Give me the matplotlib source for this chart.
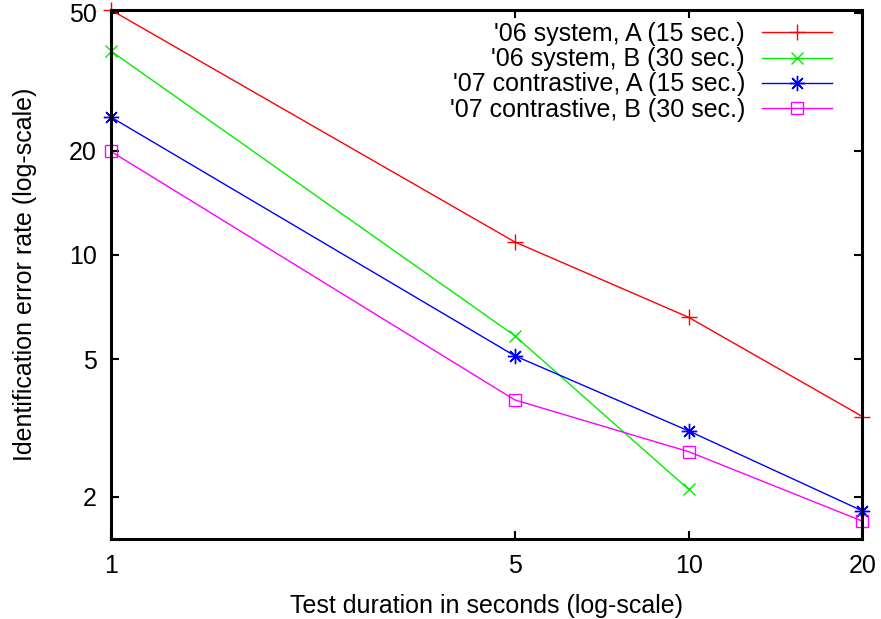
import matplotlib
matplotlib.use("Agg")
import matplotlib.pyplot as plt
from matplotlib.ticker import FixedLocator, FixedFormatter, NullLocator

plt.rcParams['font.family'] = ['Liberation Sans', 'DejaVu Sans']

durations_a = [1, 5, 10, 20]
durations_b = [1, 5, 10]
sys06_a = [51.0, 10.9, 6.6, 3.41]
sys06_b = [38.8, 5.84, 2.10]
con07_a = [25.0, 5.11, 3.10, 1.82]
con07_b = [19.9, 3.81, 2.70, 1.70]

labels = ["'06 system, A (15 sec.)", "'06 system, B (30 sec.)",
          "'07 contrastive, A (15 sec.)", "'07 contrastive, B (30 sec.)"]
xticks = [1, 5, 10, 20]
yticks = [2, 5, 10, 20, 50]

fig = plt.figure(figsize=(8.81, 6.19), dpi=100)
ax = fig.add_axes([111/881, 1-539/619, (862.5-111)/881, (539-10)/619])

lw = 1.0
ms = 11
ax.plot(durations_a, sys06_a, color='#ff0000', lw=lw, marker='+', ms=ms, mew=1.0, label=labels[0], clip_on=False)
ax.plot(durations_b, sys06_b, color='#00ee00', lw=lw, marker='x', ms=ms*0.85, mew=1.0, label=labels[1], clip_on=False)
ax.plot(durations_a, con07_a, color='#0000ff', lw=lw, marker=(8, 2, 0), ms=ms, mew=1.0, label=labels[2], clip_on=False)
ax.plot(durations_a, con07_b, color='#ff00ff', lw=lw, marker='s', ms=ms*0.8, mew=1.0, mfc='none', label=labels[3], clip_on=False)

ax.set_xscale('log')
ax.set_yscale('log')
ax.set_xlim(1, 20)
ax.set_ylim(1.51, 51)

ax.xaxis.set_major_locator(FixedLocator(xticks))
ax.xaxis.set_major_formatter(FixedFormatter([str(v) for v in xticks]))
ax.xaxis.set_minor_locator(NullLocator())
ax.yaxis.set_major_locator(FixedLocator(yticks))
ax.yaxis.set_major_formatter(FixedFormatter([str(v) for v in yticks]))
ax.yaxis.set_minor_locator(NullLocator())

ax.tick_params(which='both', direction='in', top=True, right=True, length=6, width=1.5,
               labelsize=18, colors='black')
ax.tick_params(axis='x', pad=11)
ax.tick_params(axis='y', pad=10)
for s in ax.spines.values():
    s.set_linewidth(2.2)

ax.set_xlabel('Test duration in seconds (log-scale)', fontsize=18, labelpad=11)
ax.set_ylabel('Identification error rate (log-scale)', fontsize=18, labelpad=23)

leg = ax.legend(loc='upper right', markerfirst=False, frameon=False, fontsize=18,
                handlelength=2.8, handletextpad=0.7, labelspacing=0.05,
                borderaxespad=0.0, borderpad=0.0,
                bbox_to_anchor=(1 - 30/751.5, 1 - 12/529))

fig.savefig('out.png', dpi=100)
